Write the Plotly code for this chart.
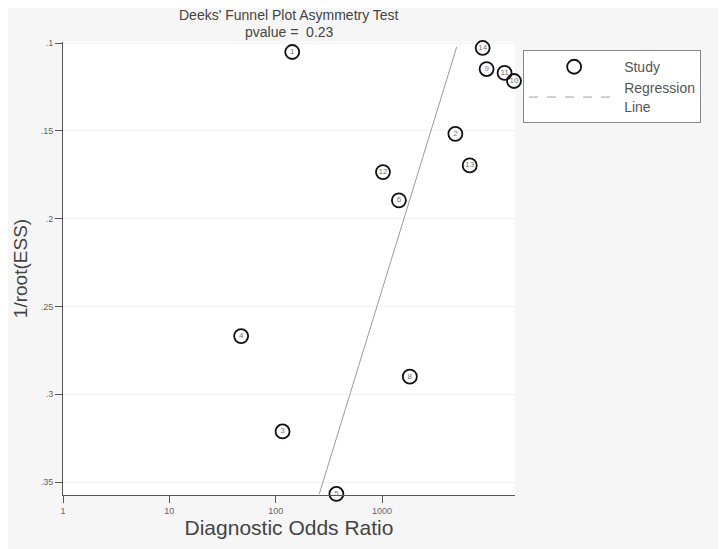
import plotly.graph_objects as go

# ── Data ──────────────────────────────────────────────────────────────────────
study_ids = ['1', '14', '9', '11', '10', '2', '13', '12', '6', '4', '8', '3', '5']
dor       = [143, 8830, 9620, 14190, 17400, 4890, 6670, 1020, 1440, 47.3, 1825, 116, 372]
inv_ess   = [0.1051, 0.1028, 0.1148, 0.1170, 0.1216, 0.1517, 0.1697, 0.1735,
             0.1896, 0.2669, 0.2900, 0.3212, 0.3568]

reg_x = [257, 5030]
reg_y = [0.3568, 0.1023]

x_ticks = [1, 10, 100, 1000]
y_ticks = [0.1, 0.15, 0.2, 0.25, 0.3, 0.35]
y_tick_text = ['.1', '.15', '.2', '.25', '.3', '.35']

title_lines = ["Deeks' Funnel Plot Asymmetry Test", "pvalue =  0.23"]

# page body has an 8px margin, so the figure is shrunk/shifted to compensate
OFF = 8

# ── Plot ──────────────────────────────────────────────────────────────────────
fig = go.Figure()

fig.add_trace(go.Scatter(
    x=reg_x, y=reg_y, mode='lines', showlegend=False,
    line=dict(color='#9a9a9a', width=1), hoverinfo='skip'
))

fig.add_trace(go.Scatter(
    x=dor, y=inv_ess, mode='markers+text', name='Study',
    text=study_ids, textposition='middle center',
    textfont=dict(size=8, color='#777777', family='Arial, Liberation Sans'),
    marker=dict(symbol='circle-open', size=14, color='#111111',
                line=dict(color='#111111', width=1.8)),
    cliponaxis=False
))

# legend entry for the regression line (dashed in the key)
fig.add_trace(go.Scatter(
    x=[None], y=[None], mode='lines', name='Regression<br>Line',
    line=dict(color='#a0a0a0', width=1, dash='dash')
))

for i, line in enumerate(title_lines):
    fig.add_annotation(
        text=line, xref='paper', yref='paper', x=0.5, xanchor='center',
        y=1 + (42 - 15 - 17 * i) / 453, yanchor='middle', showarrow=False,
        font=dict(size=14, color='#444444')
    )

fig.update_layout(
    width=726 - OFF, height=549 - OFF,
    paper_bgcolor='#f6f6f6', plot_bgcolor='white',
    margin=dict(l=63 - OFF, r=211, t=42 - OFF, b=54),
    font=dict(family='Arial, Liberation Sans, sans-serif', color='#444444'),
    legend=dict(
        x=1.018, y=0.982, xanchor='left', yanchor='top',
        bgcolor='white', bordercolor='#888888', borderwidth=1,
        font=dict(size=14, color='#555555'), itemwidth=90,
        tracegroupgap=0
    ),
    showlegend=True
)

fig.update_xaxes(
    type='log', range=[0, 4.25],
    tickvals=x_ticks, ticktext=[str(v) for v in x_ticks],
    ticks='outside', ticklen=7, tickcolor='#555555',
    tickfont=dict(size=9, color='#666666'),
    showline=True, linecolor='#555555', linewidth=1,
    showgrid=False, zeroline=False,
    title=dict(text='Diagnostic Odds Ratio', font=dict(size=21, color='#444444'),
               standoff=5)
)

fig.update_yaxes(
    range=[0.3574, 0.0994],
    tickvals=y_ticks, ticktext=y_tick_text,
    ticks='outside', ticklen=7, tickcolor='#555555',
    tickfont=dict(size=9, color='#666666'),
    showline=True, linecolor='#555555', linewidth=1,
    showgrid=True, gridcolor='#f0f0f0', zeroline=False,
    title=dict(text='1/root(ESS)', font=dict(size=19, color='#444444'),
               standoff=8)
)

fig.write_html('out.html')
